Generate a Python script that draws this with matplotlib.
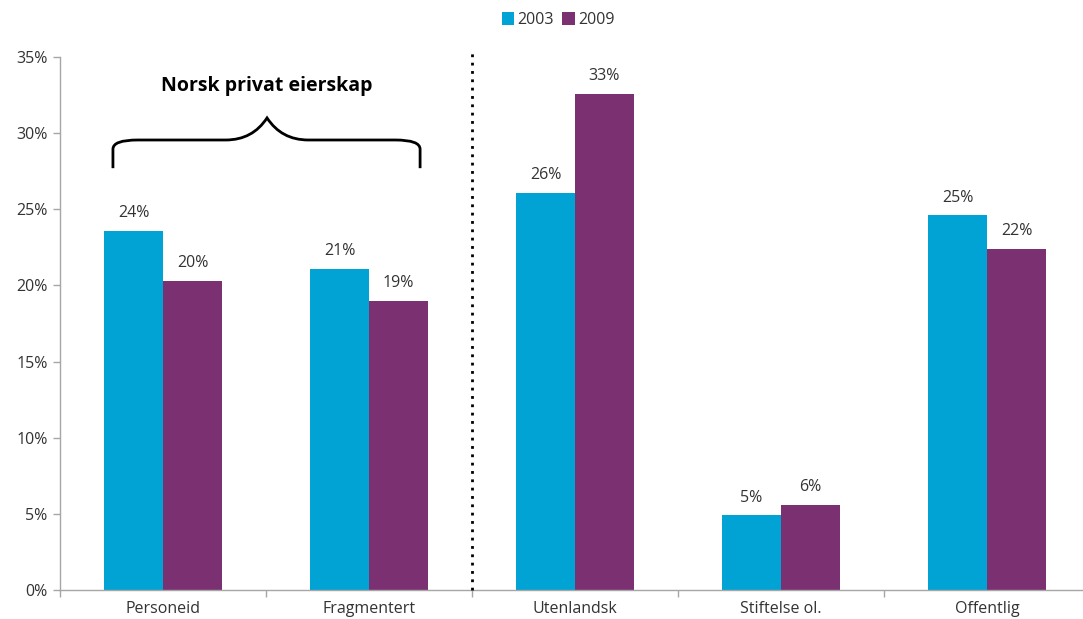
import matplotlib
matplotlib.use("Agg")
import matplotlib.pyplot as plt
import numpy as np
from matplotlib.path import Path
from matplotlib.patches import PathPatch, Patch

categories = ["Personeid", "Fragmentert", "Utenlandsk", "Stiftelse ol.", "Offentlig"]
series_names = ["2003", "2009"]
values_2003 = [23.6, 21.1, 26.1, 4.9, 24.6]
values_2009 = [20.3, 19.0, 32.6, 5.6, 22.4]
y_ticks = [0, 5, 10, 15, 20, 25, 30, 35]
bracket_label = "Norsk privat eierskap"

colors = ["#00A3D3", "#7B3071"]
text_color = "#333333"
axis_color = "#A6A6A6"

plt.rcParams["font.family"] = ["Open Sans", "DejaVu Sans"]

fig = plt.figure(figsize=(10.83, 6.19), dpi=100)
ax = fig.add_axes([60 / 1083, 29 / 619, 1030 / 1083, 533 / 619])

x = np.arange(len(categories))
w = 0.286
for i, (vals, col, name) in enumerate(zip([values_2003, values_2009], colors, series_names)):
    ax.bar(x + (i - 0.5) * w, vals, width=w, color=col, label=name, zorder=2)
    for xi, v in zip(x + (i - 0.5) * w, vals):
        ax.annotate(f"{v:.0f}%", (xi, v), xytext=(0, 7), textcoords="offset points",
                    ha="center", va="bottom", fontsize=11.5, color=text_color)

ax.set_xlim(-0.5, len(categories) - 0.5)
ax.set_ylim(0, 35)
ax.set_yticks(y_ticks)
ax.set_yticklabels([f"{t}%" for t in y_ticks])
ax.tick_params(axis="y", colors=axis_color, labelcolor=text_color, labelsize=11.5,
               length=5, width=1, pad=4)

# category boundaries carry the tick marks, labels sit at the centres
ax.set_xticks(np.arange(-0.5, len(categories), 1.0))
ax.set_xticklabels([])
ax.set_xticks(x, minor=True)
ax.set_xticklabels(categories, minor=True)
ax.tick_params(axis="x", which="major", direction="out", length=5, colors=axis_color, width=1)
ax.tick_params(axis="x", which="minor", length=0, labelsize=11.5, labelcolor=text_color, pad=8)

for s in ["top", "right"]:
    ax.spines[s].set_visible(False)
for s in ["left", "bottom"]:
    ax.spines[s].set_color(axis_color)
    ax.spines[s].set_linewidth(1)

# dotted divider between private Norwegian and other ownership
ax.plot([1.5, 1.5], [0, 35.5], linestyle=(0, (1, 2)), color="black", linewidth=2,
        clip_on=False, zorder=3)

# curly bracket over the first two groups
x0, x1, xm = -0.243, 1.248, 0.505
yb, yh, yp = 27.7, 29.55, 31.0
r = 0.12
verts = [
    (x0, yb), (x0, yh - 0.6), (x0, yh), (x0 + r, yh),
    (xm - 0.2, yh), (xm - 0.07, yh), (xm, yp),
    (xm + 0.07, yh), (xm + 0.2, yh),
    (x1 - r, yh), (x1, yh), (x1, yh - 0.6), (x1, yb),
]
codes = [Path.MOVETO, Path.LINETO, Path.CURVE3, Path.CURVE3,
         Path.LINETO, Path.CURVE3, Path.CURVE3,
         Path.CURVE3, Path.CURVE3,
         Path.LINETO, Path.CURVE3, Path.CURVE3, Path.LINETO]
ax.add_patch(PathPatch(Path(verts, codes), facecolor="none", edgecolor="black",
                       linewidth=2, zorder=3, capstyle="butt"))
ax.text(xm, 33.1, bracket_label, ha="center", va="center", fontsize=14,
        fontweight="bold", color="black")

handles = [Patch(facecolor=c, edgecolor="none") for c in colors]
fig.legend(handles, series_names, loc="center", bbox_to_anchor=(558 / 1083, 1 - 20 / 619),
           ncol=2, frameon=False, handlelength=0.8, handleheight=0.8, handletextpad=0.2,
           columnspacing=0.5, fontsize=11.5, labelcolor=text_color)

fig.savefig("out.png", dpi=100)
